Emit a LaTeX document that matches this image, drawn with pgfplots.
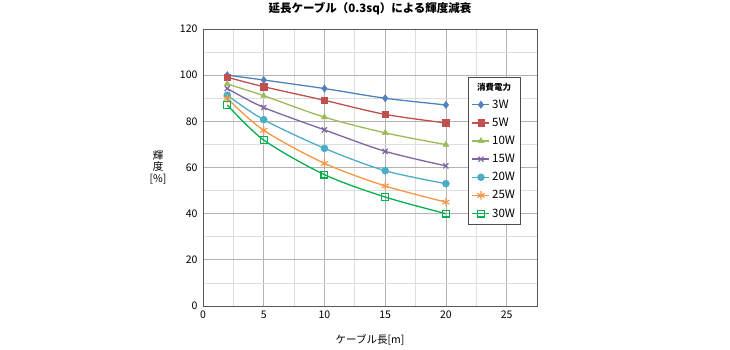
\documentclass[border=0pt]{standalone}
\usepackage{fontspec}
\setmainfont{Noto Sans CJK JP}
\usepackage{pgfplots}
\pgfplotsset{compat=1.18}
\definecolor{cA}{HTML}{4F81BD}
\definecolor{cB}{HTML}{C0504D}
\definecolor{cC}{HTML}{9BBB59}
\definecolor{cD}{HTML}{8064A2}
\definecolor{cE}{HTML}{4BACC6}
\definecolor{cF}{HTML}{F79646}
\definecolor{cG}{HTML}{00B050}
\begin{document}
\begin{tikzpicture}
\path[use as bounding box] (0pt,0pt) rectangle (730pt,350pt);
\begin{axis}[
  at={(203pt,44pt)}, anchor=south west,
  scale only axis, width=334pt, height=277pt,
  xmin=0, xmax=27.5, ymin=0, ymax=120,
  xtick={0,5,...,25}, ytick={0,20,...,120},
  minor xtick={2.5,7.5,...,27.5}, minor ytick={10,30,...,110},
  grid=both,
  major grid style={draw=black!30, line width=0.7pt},
  minor grid style={draw=black!13, line width=0.7pt},
  axis line style={draw=black!65, line width=0.8pt},
  tick style={draw=none},
  tick label style={font=\fontsize{10.5}{12}\selectfont},
  /pgf/number format/assume math mode=true,
  xticklabel style={yshift=-1pt},
  yticklabel style={xshift=-2pt},
  title={\fontsize{11.5}{13}\selectfont\bfseries 延長ケーブル（0.3sq）による輝度減衰},
  title style={at={(rel axis cs:0.5,1)}, anchor=south, yshift=5pt},
  xlabel={ケーブル長[m]},
  xlabel style={font=\fontsize{10.5}{12}\selectfont, at={(rel axis cs:0.5,0)}, anchor=center, yshift=-34pt},
  ylabel={輝\\度\\{}[\%]},
  every axis y label/.style={font=\fontsize{10.5}{11.5}\selectfont, align=center, at={(rel axis cs:0,0.5)}, anchor=center, xshift=-45pt},
  legend style={at={(0.793,0.827)}, anchor=north west,
    draw=black!70, line width=0.8pt, font=\fontsize{11.5}{13}\selectfont,
    inner sep=3.5pt, row sep=4.2pt, fill=white},
  legend cell align=left,
]
\addlegendimage{empty legend}
\addlegendentry{\hspace{-1.3em}{\fontsize{8.5}{11}\selectfont\bfseries 消費電力}}
\addplot[cA, line width=1.3pt, smooth, mark=diamond*, mark size=3.6pt, mark options={solid, line width=0.5pt}] coordinates {(2,100) (5,97.9) (10,94.2) (15,90) (20,87.1)};
\addlegendentry{3W}
\addplot[cB, line width=1.3pt, smooth, mark=square*, mark size=3.2pt, mark options={solid, line width=0.5pt}] coordinates {(2,99.1) (5,95) (10,89.1) (15,83) (20,79.3)};
\addlegendentry{5W}
\addplot[cC, line width=1.3pt, smooth, mark=triangle*, mark size=3.4pt, mark options={solid, line width=0.5pt}] coordinates {(2,96.2) (5,91.1) (10,81.8) (15,75) (20,69.9)};
\addlegendentry{10W}
\addplot[cD, line width=1.3pt, smooth, mark=x, mark size=3.6pt, mark options={solid, line width=1.2pt}] coordinates {(2,94.2) (5,86) (10,76.3) (15,67) (20,60.7)};
\addlegendentry{15W}
\addplot[cE, line width=1.3pt, smooth, mark=*, mark size=3.5pt, mark options={solid, line width=0.5pt}] coordinates {(2,91.3) (5,80.7) (10,68.3) (15,58.6) (20,53)};
\addlegendentry{20W}
\addplot[cF, line width=1.3pt, smooth, mark=asterisk, mark size=4.2pt, mark options={solid, line width=1.1pt}] coordinates {(2,89.9) (5,76.1) (10,61.8) (15,52) (20,45)};
\addlegendentry{25W}
\addplot[cG, line width=1.3pt, smooth, mark=square, mark size=3.4pt, mark options={solid, fill=white, line width=1.2pt}] coordinates {(2,87.1) (5,71.9) (10,56.9) (15,47.2) (20,40)};
\addlegendentry{30W}
\end{axis}
\end{tikzpicture}
\end{document}
